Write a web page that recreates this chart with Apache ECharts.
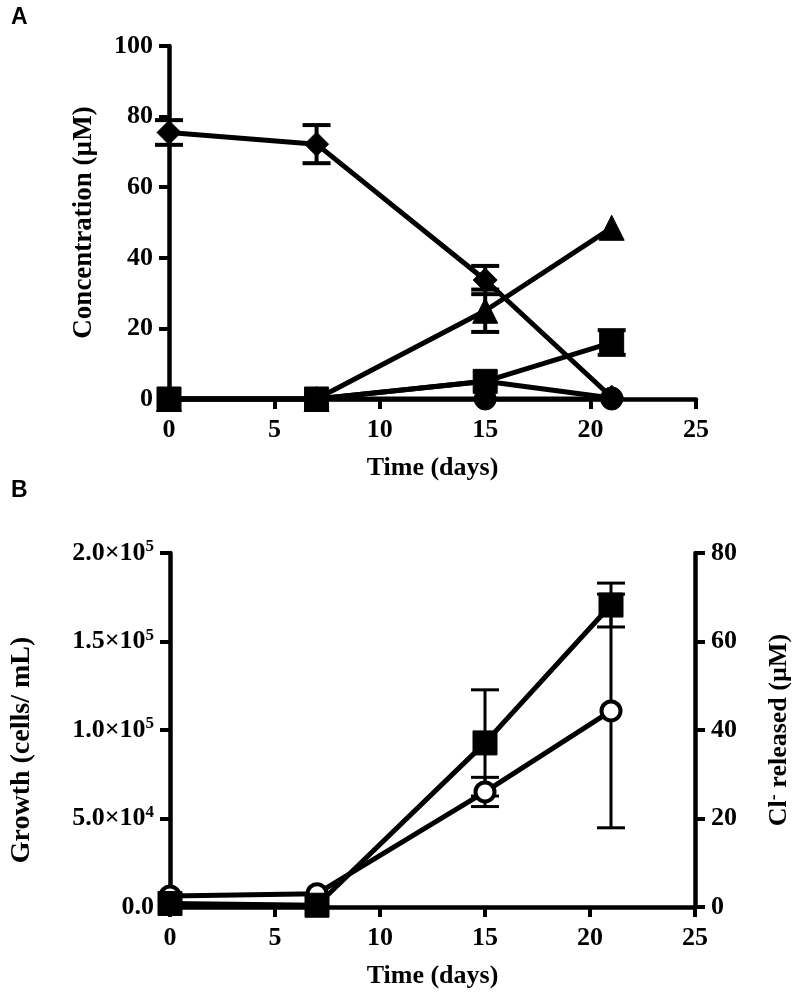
<!DOCTYPE html>
<html>
<head>
<meta charset="utf-8">
<script src="https://cdn.jsdelivr.net/npm/echarts@6/dist/echarts.min.js"></script>
<style>
html,body{margin:0;padding:0;background:#fff;}
#chart{width:800px;height:996px;}
</style>
</head>
<body>
<div id="chart"></div>
<script>
// ---------- DATA ----------
const days = [0, 7, 15, 21];
const xTicks = [0, 5, 10, 15, 20, 25];

// Panel A: concentration (µM)
const concDiamond = [75.5, 72.2, 33.7, 0.5];
const concDiamondErr = [3.5, 5.4, 4.0, 0];
const concTriangle = [0, 0, 25.0, 48.5];
const concTriangleErr = [0, 0, 6.0, 0];
const concSquare = [0, 0, 5.0, 16.0];
const concSquareErr = [0, 0, 0, 3.5];
const concCircle2 = [0, 0, 5.0, 0.3];
const concCircle = [0, 0, 0, 0];
const concTicks = [0, 20, 40, 60, 80, 100];

// Panel B
const growth = [2000, 1000, 92700, 170600];       // cells/mL
const growthErr = [0, 0, 30000, 12400];
const chloride = [2.5, 3.0, 26.0, 44.3];          // µM
const chlorideErr = [0, 0, 3.3, 26.4];
const growthTicks = ['0.0', '5.0×10{s|4}', '1.0×10{s|5}', '1.5×10{s|5}', '2.0×10{s|5}'];
const chlorideTicks = [0, 20, 40, 60, 80];

// ---------- HELPERS ----------
const FONT = '"Liberation Serif", "Times New Roman", serif';
const pairs = (ys) => days.map((d, i) => [d, ys[i]]);
const triples = (ys, es) => days.map((d, i) => [d, ys[i], es[i]]);

function errRenderer(capHalf, lw) {
  return function (params, api) {
    const x = api.value(0), y = api.value(1), e = api.value(2);
    if (!e) return null;
    const t = api.coord([x, y + e]);
    const b = api.coord([x, y - e]);
    const st = { stroke: '#000', lineWidth: lw };
    return {
      type: 'group',
      children: [
        { type: 'line', shape: { x1: t[0], y1: t[1], x2: b[0], y2: b[1] }, style: st },
        { type: 'line', shape: { x1: t[0] - capHalf, y1: t[1], x2: t[0] + capHalf, y2: t[1] }, style: st },
        { type: 'line', shape: { x1: b[0] - capHalf, y1: b[1], x2: b[0] + capHalf, y2: b[1] }, style: st }
      ]
    };
  };
}

const axisCommon = {
  axisLine: { show: true, onZero: false, lineStyle: { color: '#000', width: 4.5 } },
  axisTick: { show: true, length: 10, lineStyle: { color: '#000', width: 4 } },
  axisLabel: { color: '#000', fontFamily: FONT, fontWeight: 'bold', fontSize: 26, margin: 16 },
  splitLine: { show: false },
  nameTextStyle: { color: '#000', fontFamily: FONT, fontWeight: 'bold', fontSize: 26 }
};

function xAxis(gridIndex, gap) {
  return Object.assign({}, JSON.parse(JSON.stringify(axisCommon)), {
    type: 'value', gridIndex: gridIndex, min: 0, max: 25, interval: 5,
    name: 'Time (days)', nameLocation: 'middle', nameGap: gap,
    axisLabel: Object.assign({}, axisCommon.axisLabel, { margin: 18, formatter: (v) => String(xTicks[xTicks.indexOf(v)]) })
  });
}

function lineSeries(xi, yi, data, symbol, size, extra) {
  return Object.assign({
    type: 'line', xAxisIndex: xi, yAxisIndex: yi, data: data,
    symbol: symbol, symbolSize: size, showSymbol: true,
    lineStyle: { color: '#000', width: 5 },
    itemStyle: { color: '#000', borderColor: '#000' },
    z: 3
  }, extra || {});
}

const option = {
  animation: false,
  backgroundColor: '#fff',
  title: [
    { text: 'A', left: 6, top: 1, textStyle: { fontFamily: '"Liberation Sans", Arial, sans-serif', fontWeight: 'bold', fontSize: 23, color: '#000' } },
    { text: 'B', left: 6, top: 474, textStyle: { fontFamily: '"Liberation Sans", Arial, sans-serif', fontWeight: 'bold', fontSize: 23, color: '#000' } }
  ],
  grid: [
    { left: 169, right: 104, top: 46, height: 353, containLabel: false },
    { left: 169, right: 103, top: 553, height: 354, containLabel: false }
  ],
  xAxis: [xAxis(0, 56), xAxis(1, 56)],
  yAxis: [
    Object.assign({}, JSON.parse(JSON.stringify(axisCommon)), {
      type: 'value', gridIndex: 0, min: 0, max: 100, interval: 20,
      name: 'Concentration (µM)', nameLocation: 'middle', nameRotate: 90, nameGap: 71,
      nameTextStyle: Object.assign({}, axisCommon.nameTextStyle, { fontSize: 27 }),
      axisLabel: Object.assign({}, axisCommon.axisLabel, { formatter: (v) => String(concTicks[concTicks.indexOf(v)]) })
    }),
    Object.assign({}, JSON.parse(JSON.stringify(axisCommon)), {
      type: 'value', gridIndex: 1, min: 0, max: 200000, interval: 50000, position: 'left',
      name: 'Growth (cells/ mL)', nameLocation: 'middle', nameRotate: 90, nameGap: 134,
      nameTextStyle: Object.assign({}, axisCommon.nameTextStyle, { fontSize: 28, padding: [0, 40, 0, 0] }),
      axisLabel: Object.assign({}, axisCommon.axisLabel, {
        formatter: (v) => growthTicks[Math.round(v / 50000)],
        rich: { s: { fontFamily: FONT, fontWeight: 'bold', fontSize: 17, color: '#000', verticalAlign: 'top', padding: [0, 0, 12, 0] } }
      })
    }),
    Object.assign({}, JSON.parse(JSON.stringify(axisCommon)), {
      type: 'value', gridIndex: 1, min: 0, max: 80, interval: 20, position: 'right',
      name: 'Cl{sup|-} released (µM)', nameLocation: 'middle', nameRotate: 90, nameGap: 70,
      nameTextStyle: Object.assign({}, axisCommon.nameTextStyle, {
        rich: { sup: { fontFamily: FONT, fontWeight: 'bold', fontSize: 18, color: '#000', verticalAlign: 'top', padding: [0, 0, 10, 0] } }
      }),
      axisLabel: Object.assign({}, axisCommon.axisLabel, { formatter: (v) => String(chlorideTicks[chlorideTicks.indexOf(v)]) })
    })
  ],
  series: [
    // Panel A error bars
    { type: 'custom', xAxisIndex: 0, yAxisIndex: 0, data: triples(concDiamond, concDiamondErr), renderItem: errRenderer(14, 4), z: 2, encode: { x: 0, y: 1 } },
    { type: 'custom', xAxisIndex: 0, yAxisIndex: 0, data: triples(concTriangle, concTriangleErr), renderItem: errRenderer(14, 4), z: 2, encode: { x: 0, y: 1 } },
    { type: 'custom', xAxisIndex: 0, yAxisIndex: 0, data: triples(concSquare, concSquareErr), renderItem: errRenderer(14, 4), z: 2, encode: { x: 0, y: 1 } },
    // Panel A lines
    lineSeries(0, 0, pairs(concCircle), 'circle', 22),
    lineSeries(0, 0, pairs(concCircle2), 'circle', 22),
    lineSeries(0, 0, pairs(concSquare), 'rect', 24),
    lineSeries(0, 0, pairs(concTriangle), 'triangle', 25),
    lineSeries(0, 0, pairs(concDiamond), 'diamond', 24),
    // Panel B error bars
    { type: 'custom', xAxisIndex: 1, yAxisIndex: 1, data: triples(growth, growthErr), renderItem: errRenderer(14, 3), z: 2, encode: { x: 0, y: 1 } },
    { type: 'custom', xAxisIndex: 1, yAxisIndex: 2, data: triples(chloride, chlorideErr), renderItem: errRenderer(14, 3), z: 2, encode: { x: 0, y: 1 } },
    // Panel B lines
    lineSeries(1, 2, pairs(chloride), 'circle', 19, { itemStyle: { color: '#fff', borderColor: '#000', borderWidth: 4 } }),
    lineSeries(1, 1, pairs(growth), 'rect', 24)
  ]
};

const chart = echarts.init(document.getElementById('chart'), null, { renderer: 'canvas' });
chart.setOption(option);
</script>
</body>
</html>
